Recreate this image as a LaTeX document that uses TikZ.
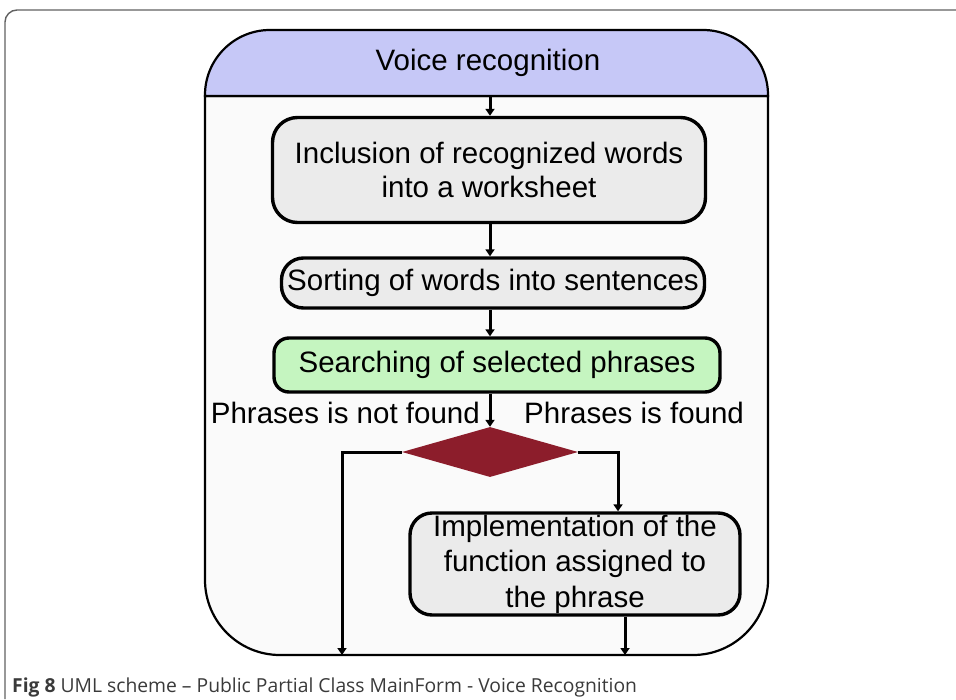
\documentclass[tikz,border=0pt]{standalone}
\usepackage{fontspec}
\setmainfont{Liberation Sans}
\newfontfamily\capfont{Open Sans}
\usetikzlibrary{positioning, calc, arrows.meta, shapes.geometric}
\definecolor{laneblue}{HTML}{C6C8F7}
\definecolor{lanebody}{HTML}{FAFAFA}
\definecolor{procgray}{HTML}{EBEBEB}
\definecolor{searchgreen}{HTML}{C5F5C0}
\definecolor{decred}{HTML}{8C1D2B}
\definecolor{capgray}{HTML}{3A3A3A}

\begin{document}
\begin{tikzpicture}[x=1pt, y=-1pt,
    proc/.style={draw=black, line width=3.4pt, fill=procgray, rounded corners=#1,
                 align=center, inner sep=0pt, font=\fontsize{29.5}{34}\selectfont},
    proc/.default=25pt,
    flow/.style={draw=black, line width=3pt, -{Triangle[length=7pt, width=9pt]}},
    lbl/.style={inner sep=0pt, font=\fontsize{29.5}{34}\selectfont}]

    \useasboundingbox (0,0) rectangle (956,699);

    % --- Caption frame ---
    \draw[capgray!80, line width=1.4pt, rounded corners=12pt] (5,699) -- (5,10) -- (956,10);
    \node[anchor=base west, inner sep=0pt, text=capgray,
          font=\capfont\fontsize{19.3}{22}\selectfont] (cap) at (12,692)
          {\textbf{Fig 8} UML scheme – Public Partial Class MainForm - Voice Recognition};

    % --- Swimlane ---
    \draw[fill=lanebody, line width=2.2pt] (205,96) [rounded corners=75pt] -- (205,655)
          -- (768,655) [sharp corners] -- (768,96) -- cycle;
    \draw[fill=laneblue, line width=2.2pt] (205,96) [rounded corners=65pt] -- (205,30)
          -- (768,30) [sharp corners] -- (768,96) -- cycle;
    \node[lbl] (title) at (488,63) {Voice recognition};
    \coordinate (hdr) at (490,96);

    % --- Actions ---
    \node[proc, minimum width=433pt, minimum height=105pt] (incl) at (489,170)
          {Inclusion of recognized words\\into a worksheet};
    \node[proc=22pt, minimum width=423pt, minimum height=50pt] (sort) at (493,283)
          {Sorting of words into sentences};
    \node[proc=15pt, fill=searchgreen, minimum width=446pt, minimum height=54pt] (search) at (497,365)
          {Searching of selected phrases};

    % Decision
    \node[diamond, fill=decred, inner sep=0pt, minimum width=176pt, minimum height=50pt] (dec) at (490,452) {};
    \node[lbl, anchor=east] (nfound) at (480,413) {Phrases is not found};
    \node[lbl, anchor=west] (found) at (524,413) {Phrases is found};

    \node[proc=22pt, minimum width=330pt, minimum height=102pt, font=\fontsize{29.5}{35.5}\selectfont]
          (impl) at (575,564) {Implementation of the\\function assigned to\\the phrase};

    % --- Connectors ---
    \coordinate (lbot) at (342,655);
    \coordinate (rbot) at (625,655);
    \draw[flow] (hdr) -- (hdr |- incl.north);
    \draw[flow] (hdr |- incl.south) -- (hdr |- sort.north);
    \draw[flow] (hdr |- sort.south) -- (hdr |- search.north);
    \draw[flow] (hdr |- search.south) -- (dec.north);
    \draw[flow] (dec.west) -| (lbot);
    \draw[flow] (dec.east) -| ($(impl.north)+(43,0)$);
    \draw[flow] (rbot |- impl.south) -- (rbot);

\end{tikzpicture}
\end{document}
